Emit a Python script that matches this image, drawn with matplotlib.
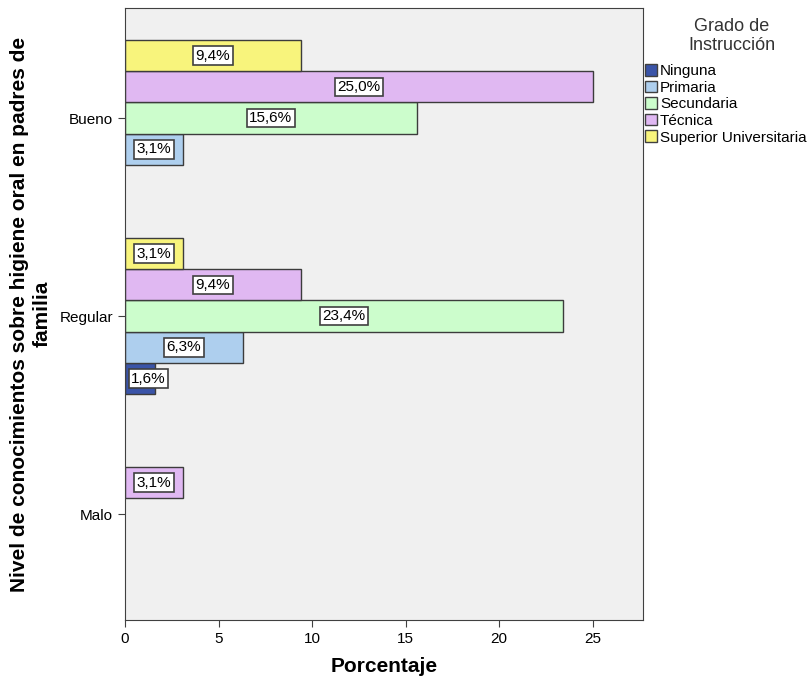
import numpy as np
import matplotlib.pyplot as plt
from matplotlib.patches import Patch

niveles = ["Bueno", "Regular", "Malo"]
grados = ["Ninguna", "Primaria", "Secundaria", "Técnica", "Superior Universitaria"]
colores = ["#3A54A8", "#AECFEE", "#CCFDCC", "#E0B8F2", "#F8F47C"]

# porcentajes por grado de instrucción (Bueno, Regular, Malo); 0 = sin casos
ninguna = [0.0, 1.6, 0.0]
primaria = [3.1, 6.3, 0.0]
secundaria = [15.6, 23.4, 0.0]
tecnica = [25.0, 9.4, 3.1]
superior = [9.4, 3.1, 0.0]
series = [ninguna, primaria, secundaria, tecnica, superior]

plt.rcParams["font.family"] = ["Liberation Sans", "DejaVu Sans"]

fig = plt.figure(figsize=(8.12, 6.81), dpi=100)
ax = fig.add_axes([0.154, 0.0896, 0.638, 0.8986])
ax.set_facecolor("#F0F0F0")

y_pos = np.arange(len(niveles))
h = 0.158
for i, (vals, col) in enumerate(zip(series, colores)):
    # Ninguna queda abajo, Superior arriba dentro de cada grupo
    offs = y_pos + (2 - i) * h
    for y, v in zip(offs, vals):
        if v <= 0:
            continue
        ax.barh(y, v, height=h, color=col, edgecolor="#3C3C3C", linewidth=1.0)
        x_lab = max(v / 2, 1.25)
        ax.text(x_lab, y, f"{v:.1f}%".replace(".", ","), ha="center", va="center",
                fontsize=11, color="black",
                bbox=dict(boxstyle="square,pad=0.15", facecolor="white",
                          edgecolor="#404040", linewidth=1.2))

ax.set_ylim(2.535, -0.556)
ax.set_xlim(0, 27.7)
ax.set_yticks(y_pos)
ax.set_yticklabels(niveles, fontsize=11)
ax.set_xticks([0, 5, 10, 15, 20, 25])
ax.tick_params(axis="x", labelsize=11, length=5, color="#404040")
ax.tick_params(axis="y", length=5, color="#404040")
for s in ax.spines.values():
    s.set_color("#404040")

ax.set_xlabel("Porcentaje", fontsize=15, fontweight="bold", labelpad=8)
ax.set_ylabel("Nivel de conocimientos sobre higiene oral en padres de\nfamilia",
              fontsize=15, fontweight="bold", labelpad=6)

# leyenda con título aparte, centrado sobre las entradas
fig.text(0.901, 0.974, "Grado de\nInstrucción", ha="center", va="top",
         fontsize=13, color="#333333", linespacing=1.2)
handles = [Patch(facecolor=c, edgecolor="#404040", label=g) for g, c in zip(grados, colores)]
fig.legend(handles=handles, loc="upper left", bbox_to_anchor=(0.794, 0.906),
           frameon=False, fontsize=11, handlelength=0.8, handleheight=0.8,
           handletextpad=0.2, labelspacing=0.16, borderaxespad=0, borderpad=0)

fig.savefig("out.png", dpi=100)
